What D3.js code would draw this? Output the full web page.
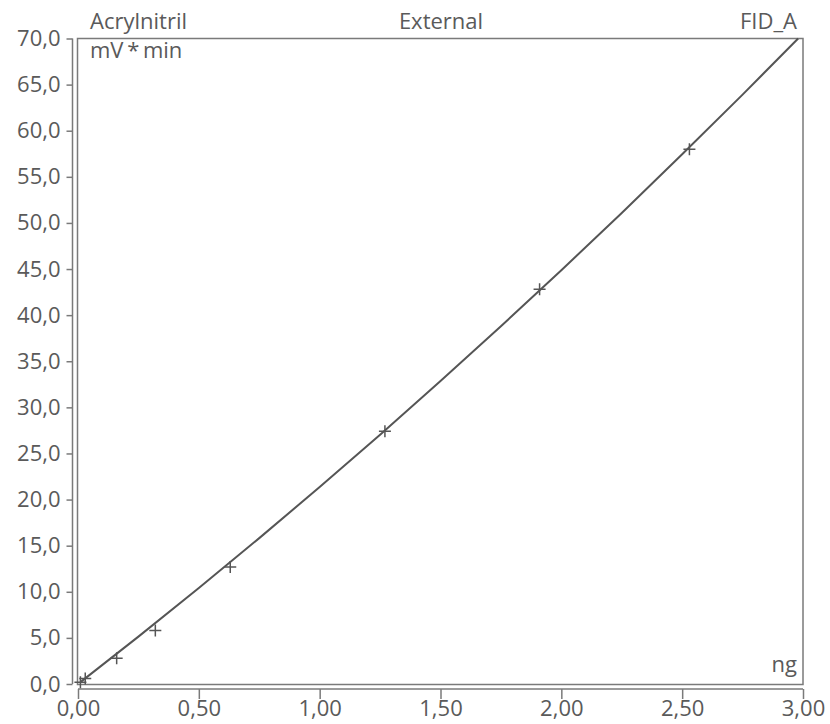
<!DOCTYPE html>
<html>
<head>
<meta charset="utf-8">
<script src="https://cdn.jsdelivr.net/npm/d3@7"></script>
<style>
  body { margin: 0; background: #fff; }
  text { font-family: "Open Sans", sans-serif; fill: #5a5a5a; }
</style>
</head>
<body>
<svg id="chart"></svg>
<script>
// calibration points (amount ng, area mV*min)
const amounts = [0.01, 0.03, 0.16, 0.32, 0.63, 1.27, 1.91, 2.53];
const areas   = [0.2, 0.6, 2.8, 5.8, 12.7, 27.4, 42.8, 58.0];

// calibration curve
const curveX = [0.01, 0.25, 0.5, 0.75, 1.0, 1.25, 1.5, 1.75, 2.0, 2.25, 2.5, 2.75, 2.98];
const curveY = [0.2, 5.14, 10.41, 15.82, 21.36, 27.04, 32.85, 38.8, 44.87, 51.08, 57.44, 63.91, 70.0];

const xTicks = [0, 0.5, 1, 1.5, 2, 2.5, 3];
const yTicks = [0, 5, 10, 15, 20, 25, 30, 35, 40, 45, 50, 55, 60, 65, 70];

const titleLeft = "Acrylnitril";
const titleMid = "External";
const titleRight = "FID_A";
const yUnit = "mV\u2009*\u2009min";
const xUnit = "ng";

const width = 830, height = 724;
const plot = {left: 77.5, right: 803, top: 38.5, bottom: 684.5};
const col = "#555";
const frameCol = "#7a7a7a";
const fmt = (d, n) => d.toFixed(n).replace(".", ",");

const svg = d3.select("#chart").attr("width", width).attr("height", height);

const x = d3.scaleLinear().domain([0, 3]).range([78, 803]);
const y = d3.scaleLinear().domain([0, 70]).range([684, 38.5]);

// frame
svg.append("rect")
  .attr("x", plot.left).attr("y", plot.top)
  .attr("width", plot.right - plot.left).attr("height", plot.bottom - plot.top)
  .attr("fill", "none").attr("stroke", frameCol).attr("stroke-width", 1.5);

// y axis, offset to the left of the frame
const yAxis = d3.axisLeft(y).tickValues(yTicks).tickSize(6).tickPadding(6)
  .tickFormat(d => fmt(d, 1));
const yg = svg.append("g").attr("transform", "translate(72.5,0)").call(yAxis);

// x axis, below the frame
const xAxis = d3.axisBottom(x).tickValues(xTicks).tickSize(10).tickPadding(1)
  .tickFormat(d => fmt(d, 2));
const xg = svg.append("g").attr("transform", "translate(0,689)").call(xAxis);

[yg, xg].forEach(g => {
  g.select(".domain").attr("stroke", frameCol).attr("stroke-width", 1.5);
  g.selectAll(".tick line").attr("stroke", frameCol).attr("stroke-width", 1.5);
  g.selectAll(".tick text").style("font-size", "22px").attr("fill", "#5a5a5a")
    .style("font-family", "'Open Sans', sans-serif");
});
yg.select(".domain").attr("d", `M0,${y(70)}V${y(0)}`);
xg.select(".domain").attr("d", `M${x(0)},0H${x(3)}`);

// curve
const curveData = curveX.map((v, i) => [v, curveY[i]]);
svg.append("path")
  .datum(curveData)
  .attr("fill", "none").attr("stroke", col).attr("stroke-width", 2)
  .attr("d", d3.line().x(d => x(d[0])).y(d => y(d[1])).curve(d3.curveMonotoneX));

// crosses
const pts = amounts.map((v, i) => [v, areas[i]]);
const cross = 6;
svg.append("g").selectAll("path")
  .data(pts).join("path")
  .attr("d", d => `M${x(d[0]) - cross},${y(d[1])}h${2 * cross}M${x(d[0])},${y(d[1]) - cross}v${2 * cross}`)
  .attr("stroke", col).attr("stroke-width", 1.5).attr("fill", "none");

// titles
const tsize = "22px";
svg.append("text").attr("x", 90).attr("y", 29).style("font-size", tsize).text(titleLeft);
svg.append("text").attr("x", 441).attr("y", 29).attr("text-anchor", "middle").style("font-size", tsize).text(titleMid);
svg.append("text").attr("x", 797).attr("y", 29).attr("text-anchor", "end").style("font-size", tsize).text(titleRight);
svg.append("text").attr("x", 90).attr("y", 58).style("font-size", tsize).text(yUnit);
svg.append("text").attr("x", 797).attr("y", 672).attr("text-anchor", "end").style("font-size", tsize).text(xUnit);
</script>
</body>
</html>
